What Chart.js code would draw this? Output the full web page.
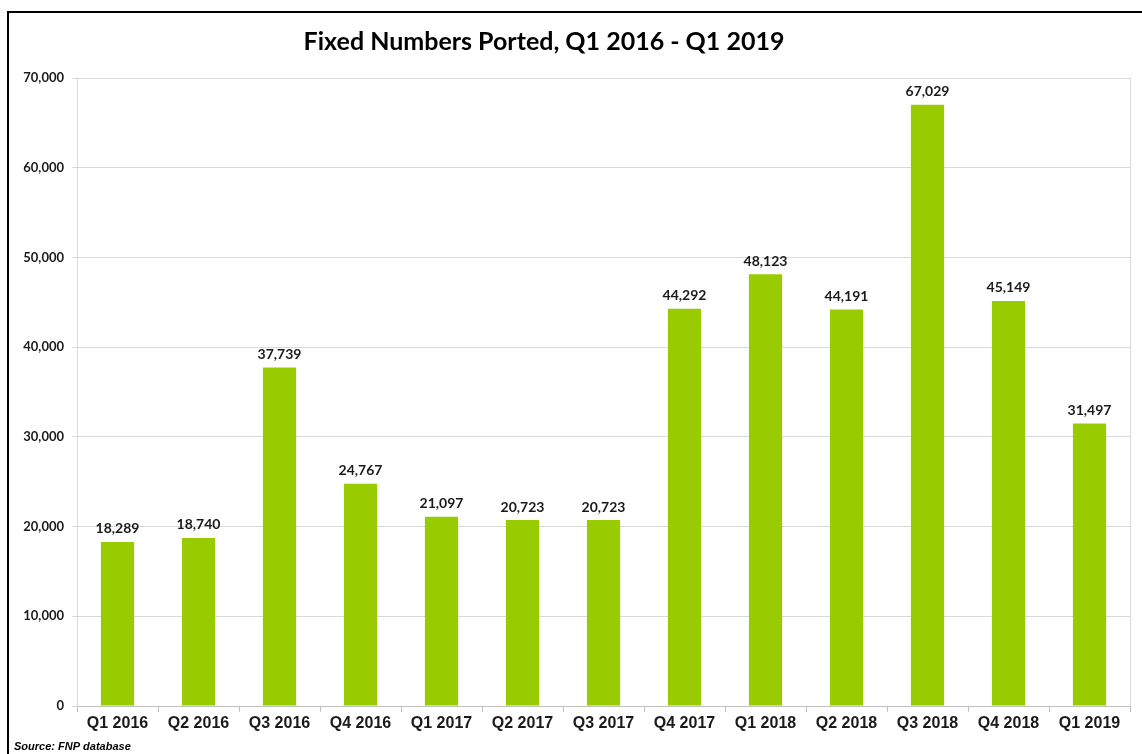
<!DOCTYPE html>
<html>
<head>
<meta charset="utf-8">
<script src="https://cdn.jsdelivr.net/npm/chart.js@4.4.1/dist/chart.umd.min.js"></script>
<style>
  html, body { margin: 0; padding: 0; background: #fff; }
  canvas { display: block; }
</style>
</head>
<body>
<canvas id="portedChart" width="1142" height="754"></canvas>
<script>
// Quarter labels and numbers ported
const quarters = ['Q1 2016', 'Q2 2016', 'Q3 2016', 'Q4 2016', 'Q1 2017', 'Q2 2017', 'Q3 2017',
                  'Q4 2017', 'Q1 2018', 'Q2 2018', 'Q3 2018', 'Q4 2018', 'Q1 2019'];
const numbersPorted = [18289, 18740, 37739, 24767, 21097, 20723, 20723,
                       44292, 48123, 44191, 67029, 45149, 31497];
const yTicks = [0, 10000, 20000, 30000, 40000, 50000, 60000, 70000];

const chartTitle = 'Fixed Numbers Ported, Q1 2016 - Q1 2019';
const sourceNote = 'Source: FNP database';

const fmt = v => v.toLocaleString('en-US');

// Frame, title, value labels and source note
const decorations = {
    id: 'decorations',
    afterDraw(chart) {
        const ctx = chart.ctx;
        const area = chart.chartArea;
        ctx.save();

        // outer frame (top and left edges visible)
        ctx.strokeStyle = '#000';
        ctx.lineWidth = 2;
        ctx.beginPath();
        ctx.moveTo(8, 754);
        ctx.lineTo(8, 12);
        ctx.lineTo(1142, 12);
        ctx.stroke();

        // right edge of plot area
        ctx.strokeStyle = '#d9d9d9';
        ctx.lineWidth = 1;
        ctx.beginPath();
        ctx.moveTo(area.right + 0.5, area.top);
        ctx.lineTo(area.right + 0.5, area.bottom);
        ctx.stroke();

        // title
        ctx.fillStyle = '#000';
        ctx.font = 'bold 25px Lato, "Open Sans", sans-serif';
        ctx.textAlign = 'center';
        ctx.textBaseline = 'middle';
        ctx.fillText(chartTitle, 544, 42);

        // value labels
        ctx.font = 'bold 14px Lato, "Open Sans", sans-serif';
        ctx.fillStyle = '#1a1a1a';
        ctx.textBaseline = 'bottom';
        const meta = chart.getDatasetMeta(0);
        meta.data.forEach((bar, i) => {
            ctx.fillText(fmt(numbersPorted[i]), bar.x, bar.y - 6);
        });

        // source note
        ctx.font = 'italic bold 11px "Liberation Sans", Arial, sans-serif';
        ctx.textAlign = 'left';
        ctx.textBaseline = 'middle';
        ctx.fillStyle = '#000';
        ctx.fillText(sourceNote, 14, 747);

        ctx.restore();
    }
};

const ctx = document.getElementById('portedChart').getContext('2d');
const portedChart = new Chart(ctx, {
    type: 'bar',
    data: {
        labels: quarters,
        datasets: [{
            label: 'Fixed numbers ported',
            data: numbersPorted,
            backgroundColor: '#99cc00',
            borderWidth: 0,
            categoryPercentage: 1,
            barPercentage: 0.41
        }]
    },
    options: {
        responsive: false,
        animation: false,
        layout: { padding: { left: 10, right: 12, top: 78, bottom: 20 } },
        plugins: {
            legend: { display: false },
            title: { display: false },
            tooltip: { enabled: false }
        },
        scales: {
            x: {
                afterFit: s => { s.height = 28; },
                grid: {
                    offset: true,
                    drawOnChartArea: false,
                    drawTicks: true,
                    tickLength: 6,
                    color: '#bfbfbf'
                },
                border: { color: '#bfbfbf' },
                ticks: {
                    color: '#1a1a1a',
                    font: { family: '"Liberation Sans", Arial, sans-serif', weight: 'bold', size: 16 },
                    padding: 2,
                    maxRotation: 0
                }
            },
            y: {
                min: 0,
                max: 70000,
                afterFit: s => { s.width = 67; },
                afterBuildTicks: s => { s.ticks = yTicks.map(v => ({ value: v })); },
                grid: { color: '#d9d9d9', tickLength: 5 },
                border: { color: '#d9d9d9' },
                ticks: {
                    color: '#1a1a1a',
                    padding: 8,
                    font: { family: 'Lato, "Open Sans", sans-serif', weight: 'bold', size: 13 },
                    callback: v => fmt(v)
                }
            }
        }
    },
    plugins: [decorations]
});
</script>
</body>
</html>
